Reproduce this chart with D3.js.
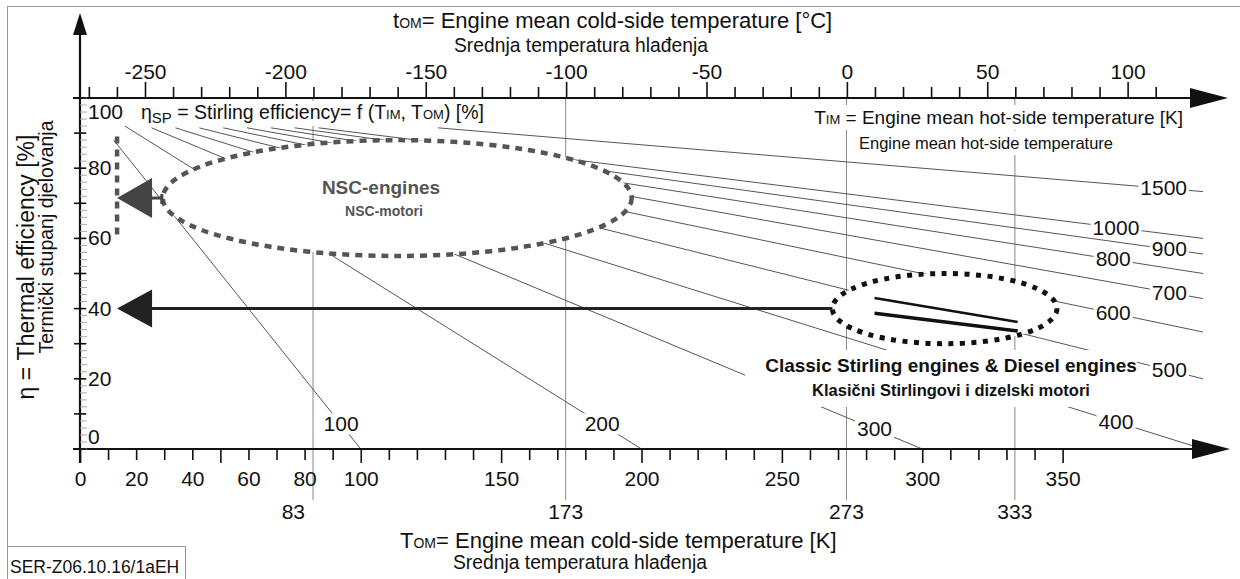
<!DOCTYPE html>
<html>
<head>
<meta charset="utf-8">
<script src="https://cdn.jsdelivr.net/npm/d3@7"></script>
<style>
  body { margin: 0; background: #fff; }
  svg text { font-family: "Liberation Sans", Arial, Helvetica, sans-serif; fill: #111; }
</style>
</head>
<body>
<div id="wrapper"></div>
<script>
// Values (temperatures in K, efficiency in %)
const hotTemps = [100, 200, 300, 400, 500, 600, 700, 800, 900, 1000, 1500]
const startEta = [88, 92, 91.5, 91.5, 91.5, 91.5, 91.5, 91.5, 91.5, 91.5, 91.5]
const labelTemps = [93, 186, 283, 369, 388, 368, 388, 368, 388, 369, 386]
const refTemps = [83, 173, 273, 333]
const kelvinLabels = [0, 20, 40, 60, 80, 100, 150, 200, 250, 300, 350]
const celsiusLabels = [-250, -200, -150, -100, -50, 0, 50, 100]
const etaLabels = [0, 20, 40, 60, 80, 100]
const nscRegion = { T: 113, eta: 71.5, rT: 83.5, rEta: 16.5 }
const classicRegion = { T: 308, eta: 40, rT: 40, rEta: 10 }
const classicLines = [
    [[283, 43.0], [334, 36.2]],
    [[283, 38.7], [334, 33.6]],
]
const nscArrow = { eta: 71.5, tipT: 13.2, fromT: 29.5, lowEta: 60, highEta: 89 }
const classicArrow = { eta: 40, tipT: 13.2, fromT: 268 }

const carnot = (T, Th) => 100 * (1 - T / Th)

function drawChart() {
    const width = 1240
    const height = 579

    const svg = d3.select("#wrapper")
        .append("svg")
        .attr("width", width)
        .attr("height", height)

    svg.append("rect")
        .attr("width", width)
        .attr("height", height)
        .attr("fill", "#fff")

    // outer frame
    svg.append("rect")
        .attr("x", 7.5).attr("y", 6.5)
        .attr("width", 1260).attr("height", 620)
        .attr("fill", "none")
        .attr("stroke", "#999")

    // scales
    const x = d3.scaleLinear().domain([0, 400]).range([80, 1203])
    const xC = d3.scaleLinear().domain([-273.15, 126.85]).range([80, 1203])
    const y = d3.scaleLinear().domain([0, 100]).range([449, 98])

    // white box behind a text element
    function boxed(parent, padX, padY) {
        const g = parent.append("g")
        const rect = g.append("rect").attr("fill", "#fff")
        const text = g.append("text")
        const fit = () => {
            const b = text.node().getBBox()
            rect.attr("x", b.x - padX).attr("y", b.y - padY)
                .attr("width", b.width + 2 * padX).attr("height", b.height + 2 * padY)
        }
        return { g, rect, text, fit }
    }

    // reference temperature lines
    const refG = svg.append("g")
    refG.selectAll("line")
        .data(refTemps)
        .join("line")
        .attr("x1", d => x(d)).attr("x2", d => x(d))
        .attr("y1", y(100)).attr("y2", 500)
        .attr("stroke", "#888")
        .attr("stroke-width", 1)

    refG.selectAll("text")
        .data(refTemps)
        .join("text")
        .attr("x", d => d === 83 ? x(d) - 8 : x(d))
        .attr("y", 519)
        .attr("text-anchor", d => d === 83 ? "end" : "middle")
        .attr("font-size", 21)
        .text(d => d)

    // efficiency lines
    const effLine = d3.line().x(d => x(d[0])).y(d => y(d[1]))
    const effPoints = (Th, i) => {
        const t0 = Th * (1 - startEta[i] / 100)
        const t1 = Math.min(Th, 400)
        return [[t0, startEta[i]], [t1, carnot(t1, Th)]]
    }
    svg.append("g")
        .selectAll("path")
        .data(hotTemps)
        .join("path")
        .attr("d", (d, i) => effLine(effPoints(d, i)))
        .attr("fill", "none")
        .attr("stroke", "#555")
        .attr("stroke-width", 1)

    // engine regions
    const region = (r, stroke, dash, sw) => svg.append("ellipse")
        .attr("cx", x(r.T))
        .attr("cy", y(r.eta))
        .attr("rx", x(r.T + r.rT) - x(r.T))
        .attr("ry", y(r.eta - r.rEta) - y(r.eta))
        .attr("fill", "#fff")
        .attr("stroke", stroke)
        .attr("stroke-width", sw)
        .attr("stroke-dasharray", dash)

    region(nscRegion, "#555", "7 6", 4.5)
    region(classicRegion, "#111", "5 6.5", 5)

    svg.append("g")
        .selectAll("path")
        .data(classicLines)
        .join("path")
        .attr("d", d => effLine(d))
        .attr("stroke", "#111")
        .attr("stroke-width", (d, i) => i === 0 ? 2.5 : 3.5)

    // line labels
    const labG = svg.append("g")
    hotTemps.forEach((Th, i) => {
        const b = boxed(labG, 2, -1)
        b.text
            .attr("x", x(labelTemps[i]))
            .attr("y", y(carnot(labelTemps[i], Th)) + 7)
            .attr("text-anchor", "middle")
            .attr("font-size", 21)
            .text(Th)
        b.fit()
    })

    // annotation texts
    const ann = svg.append("g")

    const sp = boxed(ann, 3, 0)
    sp.text.attr("x", 141).attr("y", 119).attr("font-size", 19.5)
    sp.text.append("tspan").text("η")
    sp.text.append("tspan").attr("font-size", 15).attr("dy", 4).text("SP")
    sp.text.append("tspan").attr("dy", -4).text(" = Stirling efficiency= f (T")
    sp.text.append("tspan").attr("font-size", 13).text("IM")
    sp.text.append("tspan").text(", T")
    sp.text.append("tspan").attr("font-size", 13).text("OM")
    sp.text.append("tspan").text(") [%]")
    sp.fit()

    const tim = boxed(ann, 4, 2)
    tim.text.attr("x", 1183).attr("y", 124).attr("text-anchor", "end").attr("font-size", 19)
    tim.text.append("tspan").text("T")
    tim.text.append("tspan").attr("font-size", 13).text("IM")
    tim.text.append("tspan").text(" = Engine mean hot-side temperature [K]")
    tim.fit()

    const tim2 = boxed(ann, 4, 3)
    tim2.text.attr("x", 986).attr("y", 149).attr("text-anchor", "middle").attr("font-size", 16.5)
        .text("Engine mean hot-side temperature")
    tim2.fit()

    ann.append("text")
        .attr("x", 381).attr("y", 194)
        .attr("text-anchor", "middle").attr("font-size", 19).attr("font-weight", "bold")
        .style("fill", "#555")
        .text("NSC-engines")
    ann.append("text")
        .attr("x", 384).attr("y", 216)
        .attr("text-anchor", "middle").attr("font-size", 14).attr("font-weight", "bold")
        .style("fill", "#555")
        .text("NSC-motori")

    // classic engines caption with one white box behind both lines
    const clG = ann.append("g")
    const clRect = clG.append("rect").attr("fill", "#fff")
    const cl1 = clG.append("text")
        .attr("x", 951).attr("y", 372)
        .attr("text-anchor", "middle").attr("font-size", 19).attr("font-weight", "bold")
        .text("Classic Stirling engines & Diesel engines")
    clG.append("text")
        .attr("x", 951).attr("y", 396)
        .attr("text-anchor", "middle").attr("font-size", 16.5).attr("font-weight", "bold")
        .text("Klasični Stirlingovi i dizelski motori")
    const b1 = cl1.node().getBBox()
    clRect.attr("x", b1.x - 20).attr("y", b1.y - 5)
        .attr("width", b1.width + 20).attr("height", 407 - (b1.y - 5))

    // titles
    const topTitle = svg.append("text").attr("x", 393).attr("y", 28).attr("font-size", 22)
    topTitle.append("tspan").text("t")
    topTitle.append("tspan").attr("font-size", 14).text("OM")
    topTitle.append("tspan").text("= Engine mean cold-side temperature [°C]")
    svg.append("text").attr("x", 581).attr("y", 52).attr("text-anchor", "middle")
        .attr("font-size", 19.3).text("Srednja temperatura hlađenja")

    const botTitle = svg.append("text").attr("x", 400).attr("y", 548).attr("font-size", 22)
    botTitle.append("tspan").text("T")
    botTitle.append("tspan").attr("font-size", 14).text("OM")
    botTitle.append("tspan").text("= Engine mean cold-side temperature [K]")
    svg.append("text").attr("x", 580).attr("y", 569).attr("text-anchor", "middle")
        .attr("font-size", 19.3).text("Srednja temperatura hlađenja")

    svg.append("text")
        .attr("transform", "translate(34,267) rotate(-90)")
        .attr("text-anchor", "middle").attr("font-size", 23)
        .text("η = Thermal efficiency [%]")
    svg.append("text")
        .attr("transform", "translate(53,237) rotate(-90)")
        .attr("text-anchor", "middle").attr("font-size", 19.5)
        .text("Termički stupanj djelovanja")

    // bottom axis (K)
    const bottomAxis = d3.axisBottom(x)
        .tickValues(d3.range(0, 351, 10))
        .tickSize(11)
        .tickFormat(d => kelvinLabels.includes(d) ? d : "")
    const gB = svg.append("g")
        .attr("transform", `translate(0,${y(0)})`)
        .call(bottomAxis)
    gB.select(".domain").remove()
    gB.selectAll(".tick line")
        .attr("y2", d => d % 50 === 0 ? 14 : 11)
        .attr("stroke", "#111").attr("stroke-width", 1.6)
    gB.selectAll(".tick text")
        .attr("y", 22).attr("font-size", 21)
        .style("font-family", "Liberation Sans, Arial, sans-serif")

    // top axis (°C)
    const topAxis = d3.axisTop(xC)
        .tickValues(d3.range(-270, 111, 10))
        .tickSize(11)
        .tickFormat(d => celsiusLabels.includes(d) ? d : "")
    const gT = svg.append("g")
        .attr("transform", `translate(0,${y(100)})`)
        .call(topAxis)
    gT.select(".domain").remove()
    gT.selectAll(".tick line")
        .attr("y2", d => d % 50 === 0 ? -16 : -11)
        .attr("stroke", "#111").attr("stroke-width", 1.6)
    gT.selectAll(".tick text")
        .attr("y", -19).attr("font-size", 21)
        .style("font-family", "Liberation Sans, Arial, sans-serif")

    // axis lines with arrow heads
    const axG = svg.append("g")
    const arrowHead = (tipX, tipY, dx, dy, half) => {
        // dx,dy: vector from tip back to base centre
        const len = Math.hypot(dx, dy)
        const ox = -dy / len * half, oy = dx / len * half
        return `M${tipX},${tipY}L${tipX + dx + ox},${tipY + dy + oy}L${tipX + dx - ox},${tipY + dy - oy}Z`
    }
    axG.append("line").attr("x1", 73).attr("x2", 1195).attr("y1", y(0)).attr("y2", y(0))
        .attr("stroke", "#111").attr("stroke-width", 2.2)
    axG.append("path").attr("d", arrowHead(1230, y(0), -38, 0, 10)).attr("fill", "#111")
    axG.append("line").attr("x1", 73).attr("x2", 1193).attr("y1", y(100)).attr("y2", y(100))
        .attr("stroke", "#111").attr("stroke-width", 2.2)
    axG.append("path").attr("d", arrowHead(1228, y(100), -38, 0, 10)).attr("fill", "#111")
    axG.append("line").attr("x1", x(0)).attr("x2", x(0)).attr("y1", 463).attr("y2", 32)
        .attr("stroke", "#111").attr("stroke-width", 2.2)
    axG.append("path").attr("d", arrowHead(x(0), 13, 0, 22, 7)).attr("fill", "#111")

    // y axis ticks and labels
    axG.selectAll(".minor")
        .data(d3.range(0, 101, 2))
        .join("line")
        .attr("class", "minor")
        .attr("x1", x(0)).attr("x2", x(0) + 7)
        .attr("y1", d => y(d)).attr("y2", d => y(d))
        .attr("stroke", "#aaa").attr("stroke-width", 1)
    axG.selectAll(".major")
        .data(d3.range(0, 101, 10))
        .join("line")
        .attr("class", "major")
        .attr("x1", x(0) - 6).attr("x2", x(0) + 6)
        .attr("y1", d => y(d)).attr("y2", d => y(d))
        .attr("stroke", "#111").attr("stroke-width", 1.6)
    axG.selectAll(".ylab")
        .data(etaLabels)
        .join("text")
        .attr("class", "ylab")
        .attr("x", x(0) + 8)
        .attr("y", d => d === 0 ? y(d) - 5 : d === 100 ? y(d) + 21 : y(d) + 7)
        .attr("font-size", 21)
        .text(d => d)

    // arrows pointing to the efficiency axis
    const arrG = svg.append("g")
    arrG.append("line")
        .attr("x1", x(nscArrow.tipT)).attr("x2", x(nscArrow.tipT))
        .attr("y1", y(nscArrow.highEta)).attr("y2", y(nscArrow.lowEta))
        .attr("stroke", "#555").attr("stroke-width", 4.5)
        .attr("stroke-dasharray", "7 6")
    arrG.append("line")
        .attr("x1", x(nscArrow.tipT) + 30).attr("x2", x(nscArrow.fromT))
        .attr("y1", y(nscArrow.eta)).attr("y2", y(nscArrow.eta))
        .attr("stroke", "#444").attr("stroke-width", 3)
    arrG.append("line")
        .attr("x1", x(nscArrow.fromT) - 1).attr("x2", x(nscArrow.fromT) - 1)
        .attr("y1", y(nscArrow.eta) - 4).attr("y2", y(nscArrow.eta) + 6)
        .attr("stroke", "#444").attr("stroke-width", 3)
    arrG.append("path")
        .attr("d", arrowHead(x(nscArrow.tipT), y(nscArrow.eta), 35, 0, 20))
        .attr("fill", "#444")

    arrG.append("line")
        .attr("x1", x(classicArrow.tipT) + 30).attr("x2", x(classicArrow.fromT))
        .attr("y1", y(classicArrow.eta)).attr("y2", y(classicArrow.eta))
        .attr("stroke", "#222").attr("stroke-width", 3)
    arrG.append("path")
        .attr("d", arrowHead(x(classicArrow.tipT), y(classicArrow.eta), 35, 0, 19))
        .attr("fill", "#222")

    // document code box
    svg.append("rect")
        .attr("x", 7.5).attr("y", 546.5).attr("width", 178).attr("height", 40)
        .attr("fill", "#fff").attr("stroke", "#999")
    svg.append("text")
        .attr("x", 10).attr("y", 573).attr("font-size", 17.5)
        .text("SER-Z06.10.16/1aEH")
}

drawChart()
</script>
</body>
</html>
